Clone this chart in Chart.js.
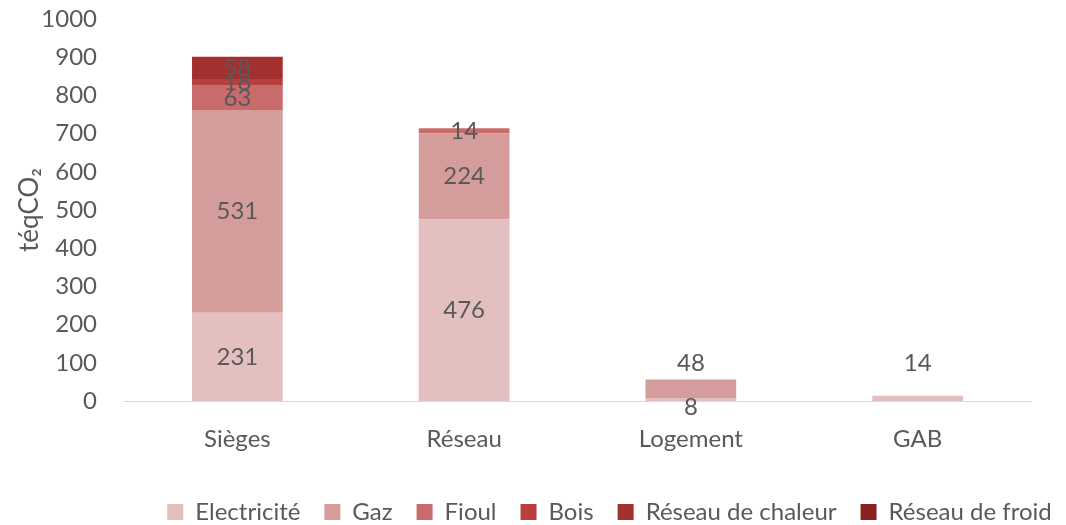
<!DOCTYPE html>
<html><head><meta charset="utf-8">
<script src="https://cdn.jsdelivr.net/npm/chart.js@4"></script>
<style>html,body{margin:0;padding:0;background:#fff}#wrap{width:1066px;height:525px}</style>
</head><body><div id="wrap"><canvas id="c" width="1066" height="525"></canvas></div>
<script>
const categories = ["Sièges", "Réseau", "Logement", "GAB"];
const seriesNames = ["Electricité", "Gaz", "Fioul", "Bois", "Réseau de chaleur", "Réseau de froid"];
const electricite = [231, 476, 8, 14];
const gaz = [531, 224, 48, 0];
const fioul = [63, 14, 0, 0];
const bois = [18, 0, 0, 0];
const chaleur = [58, 0, 0, 0];
const froid = [0, 0, 0, 0];
const yTicks = [0, 100, 200, 300, 400, 500, 600, 700, 800, 900, 1000];
const colors = ["#e4bfbf", "#d59c9c", "#c96b6b", "#b83f3f", "#a3302f", "#8b2020"];
const seriesData = [electricite, gaz, fioul, bois, chaleur, froid];

const FONT = "Lato, 'Open Sans', 'DejaVu Sans', sans-serif";
const GREY = "#595959";
const FS = 24;

const labelPlugin = {
  id: "segLabels",
  afterLayout(chart) {
    if (chart.legend) { chart.legend.left += 89; chart.legend.right += 89; }
  },
  afterDatasetsDraw(chart) {
    const ctx = chart.ctx;
    const y = chart.scales.y;
    ctx.save();
    ctx.font = FS + "px " + FONT;
    ctx.fillStyle = GREY;
    ctx.textAlign = "center";
    ctx.textBaseline = "middle";
    categories.forEach((cat, i) => {
      const total = seriesData.reduce((s, d) => s + d[i], 0);
      const nz = [];
      seriesData.forEach((d, k) => { if (d[i] > 0) nz.push(k); });
      nz.forEach((k, j) => {
        const bar = chart.getDatasetMeta(k).data[i];
        let py;
        if (total < 100) {
          const isTop = j === nz.length - 1;
          py = isTop ? y.getPixelForValue(98) : y.getPixelForValue(0) + 6;
        } else {
          py = (bar.y + bar.base) / 2;
        }
        ctx.fillText(String(seriesData[k][i]), bar.x, py);
      });
    });
    ctx.restore();
  }
};

new Chart(document.getElementById("c"), {
  type: "bar",
  data: {
    labels: categories,
    datasets: seriesNames.map((n, k) => ({
      label: n, data: seriesData[k], backgroundColor: colors[k],
      borderWidth: 0, categoryPercentage: 1, barPercentage: 0.4
    }))
  },
  options: {
    responsive: false, animation: false,
    layout: { padding: { top: 19, right: 35, left: 10, bottom: -9 } },
    plugins: {
      legend: {
        position: "bottom",
        labels: { font: { family: FONT, size: FS }, color: GREY, boxWidth: 16, boxHeight: 16, padding: 24 }
      },
      tooltip: { enabled: false }
    },
    scales: {
      x: {
        stacked: true,
        grid: { display: false },
        border: { display: true, color: "#d9d9d9", width: 1 },
        ticks: { font: { family: FONT, size: FS }, color: GREY, padding: 16 },
        afterFit(s) { s.height = 75; }
      },
      y: {
        stacked: true, min: 0, max: 1000,
        afterBuildTicks(s) { s.ticks = yTicks.map(v => ({ value: v })); },
        grid: { display: false, drawTicks: true, tickLength: 24, tickColor: "rgba(0,0,0,0)" },
        border: { display: false },
        ticks: { font: { family: FONT, size: FS }, color: GREY, padding: 3, callback: v => String(v) },
        title: { display: true, text: "téqCO₂", font: { family: FONT, size: 26 }, color: GREY, padding: { bottom: 4 } },
        afterFit(s) { s.width = 114; }
      }
    }
  },
  plugins: [labelPlugin]
});
</script></body></html>
